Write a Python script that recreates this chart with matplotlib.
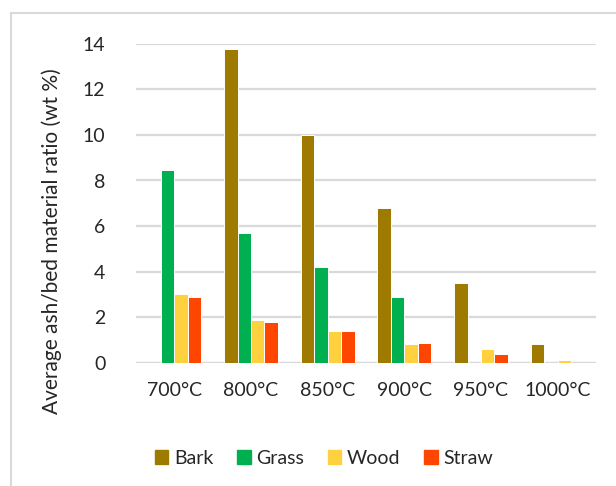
import matplotlib
matplotlib.use("Agg")
import matplotlib.pyplot as plt
import numpy as np
from matplotlib.lines import Line2D

plt.rcParams['font.family'] = ['Lato', 'DejaVu Sans']

temperatures = ["700°C", "800°C", "850°C", "900°C", "950°C", "1000°C"]
series_names = ["Bark", "Grass", "Wood", "Straw"]
bark = [0.0, 13.76, 10.0, 6.78, 3.49, 0.82]
grass = [8.44, 5.70, 4.20, 2.86, 0.0, 0.0]
wood = [2.99, 1.89, 1.39, 0.82, 0.60, 0.10]
straw = [2.87, 1.77, 1.39, 0.87, 0.37, 0.0]
colors = ["#9E7A00", "#00B050", "#FFD13F", "#FF4600"]

text_color = "#262626"
grid_color = "#D9D9D9"

fig = plt.figure(figsize=(6.16, 4.86), dpi=100)
ax = fig.add_axes([136 / 616, 1 - 362.5 / 486, 460 / 616, 318.5 / 486])

x = np.arange(len(temperatures))
slot = 0.176
values = [bark, grass, wood, straw]
for i, (name, vals, c) in enumerate(zip(series_names, values, colors)):
    offs = (i - 1.5) * slot
    ax.bar(x + offs, vals, width=slot, color=c, edgecolor="white",
           linewidth=0.7, label=name, zorder=3)

ax.set_xlim(-0.5, len(temperatures) - 0.5)
ax.set_ylim(0, 14)
ax.set_yticks(np.arange(0, 15, 2))
ax.set_xticks(x)
ax.set_xticklabels(temperatures)
ax.tick_params(axis="both", length=0, labelsize=14, colors=text_color)
ax.tick_params(axis="y", pad=22)
ax.tick_params(axis="x", pad=14)
ax.yaxis.grid(True, color=grid_color, linewidth=1.6, zorder=0)
for s in ax.spines.values():
    s.set_visible(False)
ax.axhline(0, color=grid_color, linewidth=1.6, zorder=1)

ax.set_ylabel("Average ash/bed material ratio (wt %)", fontsize=15,
              color=text_color)
ax.yaxis.set_label_coords(-0.16, 0.381)

handles = [plt.Rectangle((0, 0), 1, 1, color=c) for c in colors]
fig.legend(handles, series_names, loc="center", ncol=4,
           bbox_to_anchor=(324 / 616, 1 - 458 / 486), frameon=False,
           fontsize=14, handlelength=0.7, handleheight=0.7,
           handletextpad=0.3, columnspacing=1.2, labelcolor=text_color)

# chart area border (top and left edges)
fig.add_artist(Line2D([11 / 616, 11 / 616], [0, 1 - 13 / 486],
                      transform=fig.transFigure, color=grid_color, linewidth=1.5))
fig.add_artist(Line2D([11 / 616, 1], [1 - 13 / 486, 1 - 13 / 486],
                      transform=fig.transFigure, color=grid_color, linewidth=1.5))

fig.savefig("out.png", dpi=100)
